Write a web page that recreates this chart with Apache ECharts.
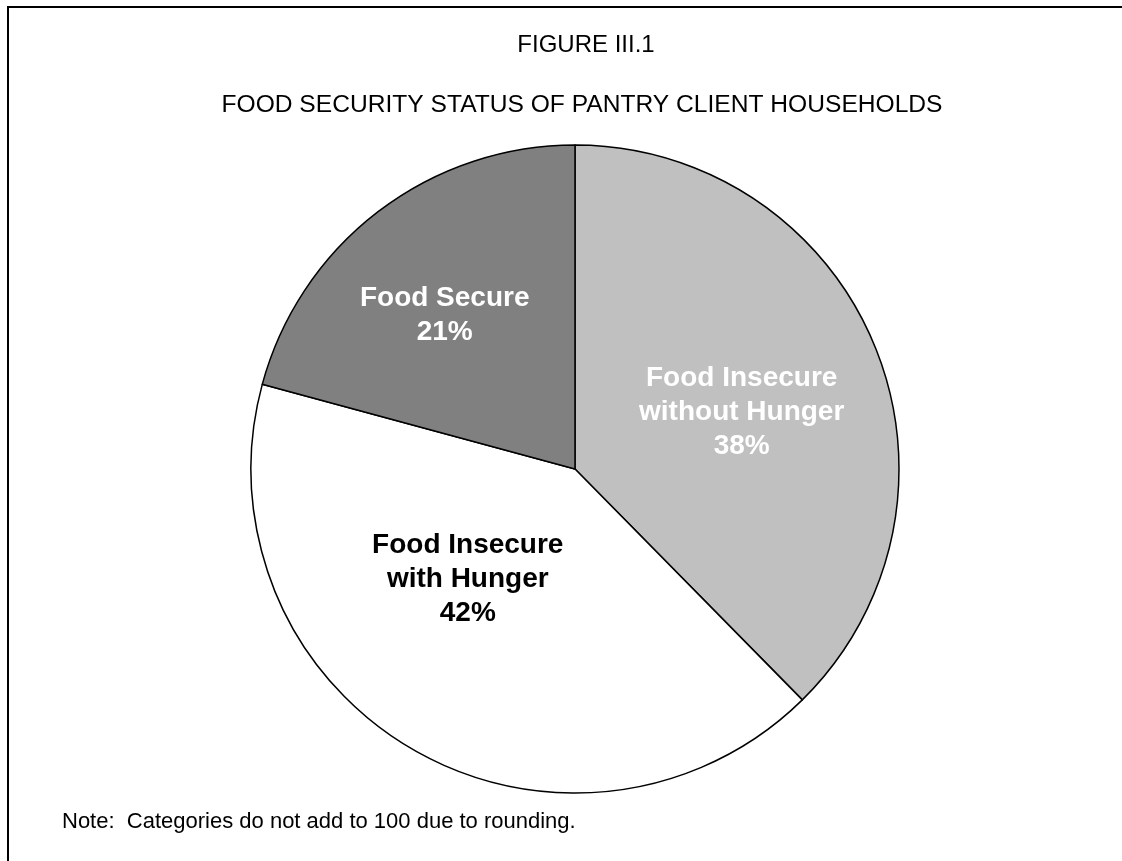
<!DOCTYPE html>
<html>
<head>
<meta charset="utf-8">
<script src="https://cdn.jsdelivr.net/npm/echarts@6/dist/echarts.min.js"></script>
<style>
html,body{margin:0;padding:0;background:#fff;}
#chart{width:1122px;height:861px;}
</style>
</head>
<body>
<div id="chart"></div>
<script>
const categories = ['Food Insecure\nwithout Hunger', 'Food Insecure\nwith Hunger', 'Food Secure'];
const values = [38, 42, 21];
const sliceColors = ['#C0C0C0', '#FFFFFF', '#808080'];
const labelColors = ['#FFFFFF', '#000000', '#FFFFFF'];
const labelOffsets = [[14, 6], [-24, -32], [-30, -23]];
const figureTitle = 'FIGURE III.1';
const subTitle = 'FOOD SECURITY STATUS OF PANTRY CLIENT HOUSEHOLDS';
const noteText = 'Note:  Categories do not add to 100 due to rounding.';

const chart = echarts.init(document.getElementById('chart'), null, {renderer: 'canvas'});
const FONT = '"Liberation Sans", Arial, Helvetica, sans-serif';

const data = categories.map((c, i) => ({
  name: c,
  value: values[i],
  itemStyle: {color: sliceColors[i]},
  label: {color: labelColors[i], offset: labelOffsets[i]}
}));

chart.setOption({
  animation: false,
  backgroundColor: '#fff',
  graphic: [
    {type: 'rect', shape: {x: 8, y: 7, width: 1300, height: 1000},
     style: {fill: 'none', stroke: '#000', lineWidth: 2}, silent: true, z: -1},
    {type: 'text', x: 586, y: 45,
     style: {text: figureTitle, font: '24px ' + FONT, fill: '#000', textAlign: 'center', textVerticalAlign: 'middle'}},
    {type: 'text', x: 582, y: 105,
     style: {text: subTitle, font: '24.6px ' + FONT, fill: '#000', textAlign: 'center', textVerticalAlign: 'middle'}},
    {type: 'text', x: 62, y: 822,
     style: {text: noteText, font: '22px ' + FONT, fill: '#000', textAlign: 'left', textVerticalAlign: 'middle'}}
  ],
  series: [{
    type: 'pie',
    center: [575, 469],
    radius: [0, 324],
    startAngle: 90,
    clockwise: true,
    avoidLabelOverlap: false,
    minAngle: 0,
    emphasis: {disabled: true},
    itemStyle: {borderColor: '#000', borderWidth: 1.5},
    label: {
      show: true,
      position: 'inside',
      formatter: p => p.name + '\n' + p.value + '%',
      fontFamily: FONT,
      fontWeight: 'bold',
      fontSize: 28,
      lineHeight: 34,
      align: 'center'
    },
    labelLine: {show: false},
    data: data
  }]
});
</script>
</body>
</html>
